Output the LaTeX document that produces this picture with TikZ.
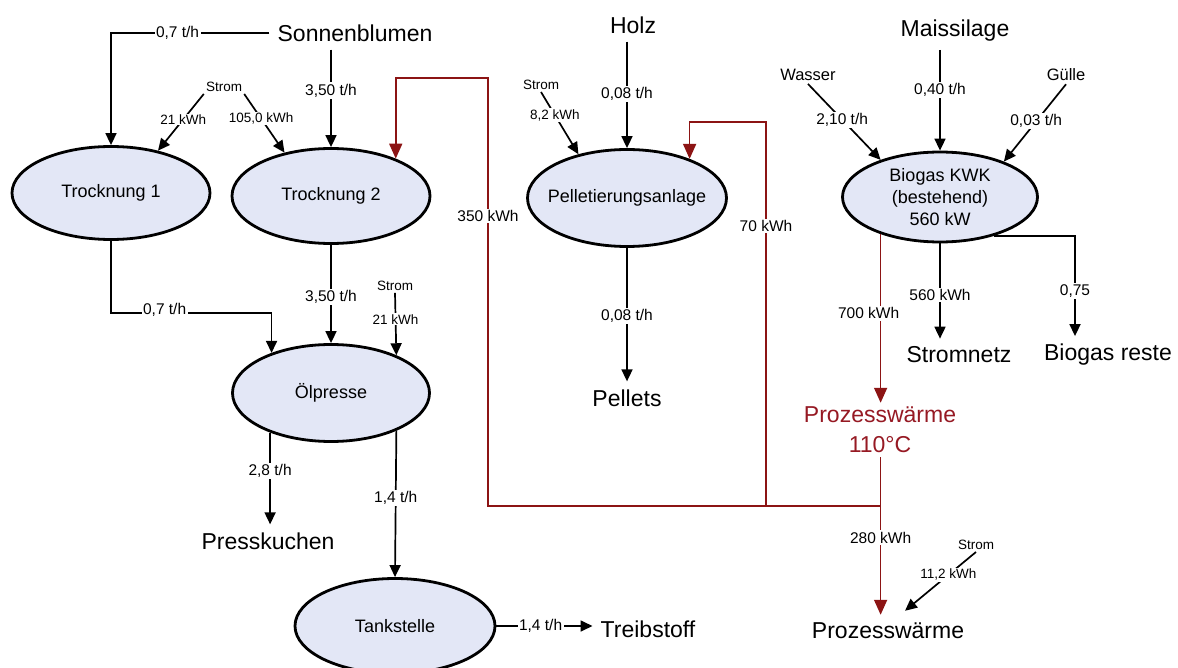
\documentclass[tikz,border=0pt]{standalone}
\usepackage{fontspec}
\setmainfont{Liberation Sans}
\usetikzlibrary{arrows.meta,shapes.geometric,calc}
\definecolor{heatred}{RGB}{140,20,20}
\definecolor{heattext}{RGB}{150,25,35}
\definecolor{procfill}{RGB}{227,231,246}

\begin{document}
\begin{tikzpicture}[x=1pt,y=-1pt,
  proc/.style={ellipse, draw=black, line width=2.8pt, fill=procfill, inner sep=0pt},
  proctext/.style={font=\fontsize{18}{22}\selectfont, align=center, inner sep=0pt},
  big/.style={font=\fontsize{23}{28}\selectfont, inner sep=8pt},
  src/.style={font=\fontsize{16.5}{20}\selectfont, inner sep=3pt},
  tiny/.style={font=\fontsize{13.5}{16}\selectfont, inner sep=2pt},
  lbl/.style={font=\fontsize{15.5}{18}\selectfont, fill=white, inner sep=1.5pt},
  slbl/.style={font=\fontsize{13.5}{16}\selectfont, fill=white, inner sep=1pt},
  flow/.style={draw=black, line width=1.7pt, -{Triangle[length=12pt,width=11pt]}},
  heat/.style={draw=heatred, line width=1.7pt},
  heatarrow/.style={heat, -{Triangle[length=15pt,width=13pt]}},
]
\fill[white] (0,0) rectangle (1178,668);
\useasboundingbox (0,0) rectangle (1178,668);

% process units
\node[proc, minimum width=198pt, minimum height=93pt, label={[proctext]center:Trocknung 1}] (t1) at (111,193) {};
\node[proc, minimum width=198pt, minimum height=95pt, label={[proctext]center:Trocknung 2}] (t2) at (331,196) {};
\node[proc, minimum width=199pt, minimum height=97pt, label={[proctext]center:Pelletierungsanlage}] (pel) at (627,198) {};
\node[proc, minimum width=195pt, minimum height=90pt, label={[proctext]center:{Biogas KWK\\(bestehend)\\560 kW}}] (bio) at (940,197) {};
\node[proc, minimum width=197pt, minimum height=97pt, label={[proctext]center:Ölpresse}] (op) at (331,393) {};
\node[proc, minimum width=200pt, minimum height=95pt, label={[proctext]center:Tankstelle}] (tank) at (395,626) {};

% inputs and outputs
\node[big] (sun) at (355,33) {Sonnenblumen};
\node[big] (holz) at (633,25) {Holz};
\node[big] (mais) at (955,31) {Maissilage};
\node[src] (wasser) at (808,75) {Wasser};
\node[src] (guelle) at (1066,75) {Gülle};
\node[tiny] (s1) at (224,87) {Strom};
\node[tiny] (s2) at (541,85) {Strom};
\node[tiny] (s3) at (395,286) {Strom};
\node[tiny] (s4) at (976,545) {Strom};
\node[big] (snetz) at (959,355) {Stromnetz};
\node[big] (reste) at (1108,355) {Biogas reste};
\node[big] (pellets) at (627,398) {Pellets};
\node[big] (pk) at (268,541) {Presskuchen};
\node[big] (treib) at (648,629) {Treibstoff};
\node[big, text=heattext, align=center, inner sep=4pt, font=\fontsize{23}{30}\selectfont] (pw1) at (880,430) {Prozesswärme\\110°C};
\node[big] (pw2) at (888,631) {Prozesswärme};

% sunflower line
\draw[flow] (sun.west) -| node[lbl,pos=0.29]{0,7 t/h} (t1.north);
\draw[flow] (sun.south -| t2.north) -- node[lbl,pos=0.42]{3,50 t/h} (t2.north);
\draw[flow] (s1.south west) -- node[slbl,pos=0.45]{21 kWh} (t1.42);
\draw[flow] (s1.south east) -- node[slbl,pos=0.42]{105,0 kWh} (t2.137);
\coordinate (k1) at (111,313);
\draw[flow] (t1.south) -- (k1) -| node[lbl,pos=0.167,yshift=3pt]{0,7 t/h} (op.146);
\draw[flow] (t2.south) -- node[lbl,pos=0.53]{3,50 t/h} (op.north);
\draw[flow] (s3.south) -- node[slbl,pos=0.42]{21 kWh} (op.30);
\draw[flow] (op.213) -- node[lbl,pos=0.42]{2,8 t/h} (op.213 |- pk.north);
\draw[flow] (op.-30) -- node[lbl,pos=0.46]{1,4 t/h} (tank.north);
\draw[flow] (tank.east) -- node[lbl,pos=0.46]{1,4 t/h} (tank.east -| treib.west);

% pellet line
\draw[flow] (holz.south -| pel.north) -- node[lbl,pos=0.49]{0,08 t/h} (pel.north);
\draw[flow] (s2.south) -- node[slbl,pos=0.37]{8,2 kWh} (pel.138);
\draw[flow] (pel.south) -- node[lbl,pos=0.51]{0,08 t/h} (pel.south |- pellets.north);

% biogas plant
\draw[flow] (mais.south -| bio.north) -- node[lbl,pos=0.4]{0,40 t/h} (bio.north);
\draw[flow] (wasser.south) -- node[lbl,pos=0.47]{2,10 t/h} (bio.148);
\draw[flow] (guelle.south) -- node[lbl,pos=0.48]{0,03 t/h} (bio.29);
\draw[flow] (bio.south) -- node[lbl,pos=0.54]{560 kWh} (bio.south |- snetz.north);
\draw[flow] (bio.-36) -| node[lbl,pos=0.775]{0,75} ($(reste.north)+(-33,0)$);

% process heat
\draw[heatarrow] (bio.212) -- node[lbl,pos=0.47,xshift=-12pt]{700 kWh} (bio.212 |- pw1.north);
\draw[heatarrow] (pw1.south -| bio.212) -- node[lbl,pos=0.51]{280 kWh} (pw2.north -| bio.212);
\coordinate (j) at (bio.212 |- 0,506);
\coordinate (r1) at (488,78);
\coordinate (jp) at (766,506);
\coordinate (r2) at (766,122);
\draw[heatarrow] (j) -- (j -| r1) -- node[lbl,pos=0.678]{350 kWh} (r1) -| (t2.30);
\draw[heatarrow] (jp) -- node[lbl,pos=0.729]{70 kWh} (r2) -| (pel.32);
\draw[flow] (s4.south) -- node[slbl,pos=0.39]{11,2 kWh} ($(pw2.north)+(17,-4)$);
\end{tikzpicture}
\end{document}
